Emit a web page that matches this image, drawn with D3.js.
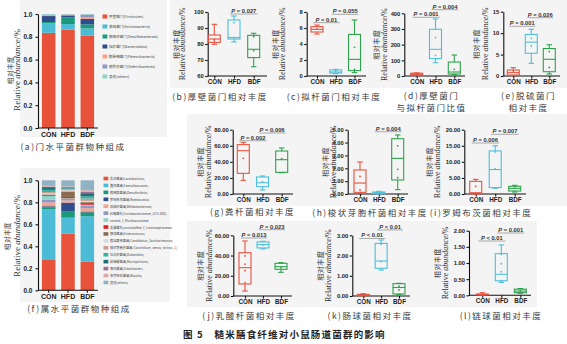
<!DOCTYPE html>
<html><head><meta charset="utf-8">
<script src="https://cdn.jsdelivr.net/npm/d3@7"></script>
<style>
body{margin:0;background:#fff}
text{font-family:"Liberation Sans",Arial,sans-serif}
.cn{font-family:"Noto Sans CJK SC",sans-serif}
</style>
</head><body>
<svg id="fig" width="567" height="344"></svg>
<script>
// ---------- data ----------
const groups = ["CON", "HFD", "BDF"];
const groupColors = ["#e8533f", "#4dbfdc", "#2ea24c"];

// phylum level composition (bottom to top)
const phylumNames = ["厚壁菌门(Firmicutes)", "放线菌门(Actinobacteria)", "脱硫杆菌门(Desulfobacterota)",
  "拟杆菌门(Bacteroidota)", "髌骨细菌门(Patescibacteria)", "脱铁杆菌门(Deferribacteres)", "其他(others)"];
const phylumColors = ["#e8513a", "#4cbcd6", "#1a9a7a", "#2f4d8a", "#f5a38a", "#8f97c4", "#8fd3c6"];
const phylumCON = [0.835, 0.083, 0.012, 0.052, 0.008, 0.004, 0.006];
const phylumHFD = [0.862, 0.050, 0.058, 0.018, 0.006, 0.003, 0.003];
const phylumBDF = [0.809, 0.065, 0.035, 0.047, 0.014, 0.025, 0.005];

// genus level composition (bottom to top)
const genusNames = ["乳杆菌属(Lactobacillus)", "粪杆菌属(Faecalibaculum)", "脱硫弧菌属(Desulfovibrio)",
  "罗姆布茨菌属(Romboutsia)", "双歧杆菌属(Bifidobacterium)", "红蝽菌科(Coriobacteriaceae_UCG-002)",
  "norank_f_Muribaculaceae", "毛螺菌科(unclassified_f_Lachnospiraceae)", "肠球菌属(Enterococcus)",
  "假丝酵母菌属(Candidatus_Saccharimonas)", "梭状芽胞杆菌属(Clostridium_sensu_stricto_1)",
  "杜氏杆菌属(Dubosiella)", "粘液螺菌属(Mucispirillum)", "臭杆菌属(Odoribacter)",
  "布劳特氏菌属(Blautia)", "其他(others)"];
const genusColors = ["#e8513a", "#4cbcd6", "#1a9a7a", "#2f4d8a", "#f5a38a", "#8f97c4", "#8fd3c6",
  "#e41e26", "#8b6a4e", "#d9d9d9", "#c99c90", "#3ab3a4", "#1f6f7a", "#9a7096", "#dba8a8", "#8fb3c4"];
const genusCON = [0.276, 0.460, 0.018, 0.010, 0.035, 0.025, 0.035, 0.008, 0.004, 0.010, 0.012, 0.020, 0.025, 0.005, 0.007, 0.050];
const genusHFD = [0.515, 0.145, 0.060, 0.077, 0.020, 0.015, 0.005, 0.012, 0.050, 0.010, 0.010, 0.008, 0.008, 0.005, 0.005, 0.055];
const genusBDF = [0.260, 0.413, 0.035, 0.008, 0.030, 0.020, 0.012, 0.015, 0.008, 0.012, 0.020, 0.020, 0.030, 0.012, 0.015, 0.090];

const stackTicks = [0, 0.2, 0.4, 0.6, 0.8, 1.0];

// box statistics per group: [min, q1, median, q3, max]
const boxFirmicutes = [[79.8, 81.0, 83.1, 85.6, 92.3], [81.3, 83.1, 84.0, 95.0, 97.5], [65.8, 71.5, 76.7, 85.4, 86.7]];
const ptsFirmicutes = [[83.0, 82.0], [93.3, 84.2], [75.8, 84.6]];
const boxBacteroidota = [[5.25, 5.5, 5.83, 6.17, 6.37], [0.29, 0.37, 0.5, 0.75, 0.83], [0.42, 0.67, 2.08, 5.2, 7.0]];
const ptsBacteroidota = [[5.9], [0.6], [3.58, 0.83]];
const boxFBRatio = [[5, 8, 12, 18, 20], [85, 111, 170, 298, 364], [8.5, 12.8, 25.5, 89, 134]];
const ptsFBRatio = [[12], [245, 132], [42.5]];
const boxDesulfo = [[0.08, 0.23, 0.78, 1.4, 1.94], [2.95, 5.3, 7.9, 9.7, 10.9], [0.47, 1.0, 3.9, 6.4, 7.3]];
const ptsDesulfo = [[1.17], [8.8, 7.0], [5.7, 2.0]];
const boxFaecali = [[17, 25.7, 53.9, 61.4, 64.3], [5, 9.1, 14, 21.2, 22.4], [26.5, 27, 42.7, 53.5, 57.3]];
const ptsFaecali = [[44.4], [15.3], [44]];
const boxClostridium = [[0.05, 0.13, 0.85, 1.87, 2.49], [0.0, 0.03, 0.1, 0.155, 0.21], [0.34, 1.09, 2.77, 4.3, 4.59]];
const ptsClostridium = [[1.37, 0.31], [0.1], [3.75, 1.92, 1.27]];
const boxRomboutsia = [[0.0, 0.1, 0.4, 3.94, 4.56], [1.76, 2.0, 7.6, 13.4, 15.0], [0.62, 0.93, 1.76, 2.4, 2.7]];
const ptsRomboutsia = [[2.4], [13.1, 7.8], [1.8]];
const boxLacto = [[4.9, 11.9, 28, 42.8, 54.4], [46.5, 47.5, 50.8, 53.5, 54.1], [23.4, 26.4, 29, 32.3, 33]];
const ptsLacto = [[39.6, 31.4, 25, 13.2], [50.5], [28]];
const boxEntero = [[0.01, 0.02, 0.05, 0.08, 0.115], [1.28, 1.37, 1.73, 2.6, 2.77], [0.07, 0.1, 0.42, 0.61, 0.63]];
const ptsEntero = [[0.05], [2.55, 1.7], [0.49, 0.3]];
const boxStrepto = [[0.005, 0.01, 0.025, 0.04, 0.08], [0.4, 0.45, 0.65, 1.29, 1.56], [0.06, 0.08, 0.13, 0.19, 0.21]];
const ptsStrepto = [[0.03], [1.27, 0.98, 0.73, 0.45], [0.13]];

// significance labels: [group a, group b, p value, relation]
const sigFirmicutes = [[1, 2, "0.027", "="]];
const sigBacteroidota = [[0, 1, "0.01", "="], [1, 2, "0.055", "="]];
const sigFBRatio = [[0, 1, "0.001", "="], [1, 2, "0.004", "="]];
const sigDesulfo = [[0, 1, "0.001", "="], [1, 2, "0.026", "="]];
const sigFaecali = [[0, 1, "0.002", "="], [1, 2, "0.006", "="]];
const sigClostridium = [[1, 2, "0.004", "="]];
const sigRomboutsia = [[0, 1, "0.006", "="], [1, 2, "0.007", "="]];
const sigLacto = [[0, 1, "0.013", "="], [1, 2, "0.023", "="]];
const sigEntero = [[0, 1, "0.01", "<"], [1, 2, "0.01", "<"]];
const sigStrepto = [[0, 1, "0.01", "<"], [1, 2, "0.001", "="]];

// ---------- drawing ----------
const svg = d3.select("#fig");
const bg = "#f4f4f4";
[[20, 0, 147, 137], [20, 168, 150, 134], [170, 0, 397, 88], [187, 114, 380, 92], [187, 221, 350, 86]]
  .forEach(r => svg.append("rect").attr("x", r[0]).attr("y", r[1]).attr("width", r[2]).attr("height", r[3]).attr("fill", bg));

function styleAxis(sel, fs) {
  sel.selectAll("path,line").attr("stroke", "#111").attr("stroke-width", 1.1);
  sel.selectAll("text").attr("font-size", fs).attr("font-weight", "bold").attr("fill", "#222");
}

function yTitle(xCn, xEn, cy, fsCn, fsEn) {
  svg.append("text").attr("class", "cn").attr("transform", `translate(${xCn},${cy}) rotate(-90)`)
    .attr("text-anchor", "middle").attr("dominant-baseline", "central")
    .attr("font-size", fsCn).attr("letter-spacing", 0.6).attr("fill", "#333").text("相对丰度");
  const t = svg.append("text").attr("transform", `translate(${xEn},${cy}) rotate(-90)`)
    .attr("text-anchor", "middle").attr("dominant-baseline", "central")
    .attr("font-size", fsEn).attr("fill", "#333").style("font-family", "'Liberation Serif',serif");
  t.append("tspan").text("Relative ");
  t.append("tspan").attr("font-style", "italic").text("abundance");
  t.append("tspan").text("/%");
}

function panelLabel(lines, cx, y0) {
  lines.forEach((s, i) => svg.append("text").attr("class", "cn").attr("x", cx).attr("y", y0 + i * 12.6)
    .attr("text-anchor", "middle").attr("font-size", 8.5).attr("letter-spacing", 1.5).attr("fill", "#3a3a3a").text(s));
}

function stackPanel(p) {
  const table = groups.map((g, i) => {
    const row = { group: g };
    p.names.forEach((n, j) => row[n] = p.values[i][j]);
    return row;
  });
  const series = d3.stack().keys(p.names)(table);
  const y = d3.scaleLinear().domain([0, 1]).range([p.yBot, p.yTop]);
  const x = d3.scaleBand().domain(groups).range([p.ax + 1, p.ax + 59]).paddingInner(0.3).paddingOuter(0.15);
  svg.append("g").selectAll("g").data(series).join("g")
    .attr("fill", (d, i) => p.colors[i])
    .selectAll("rect").data(d => d).join("rect")
    .attr("x", d => x(d.data.group)).attr("width", x.bandwidth())
    .attr("y", d => y(d[1])).attr("height", d => y(d[0]) - y(d[1]));
  const ya = svg.append("g").attr("transform", `translate(${p.ax},0)`)
    .call(d3.axisLeft(y).tickValues(stackTicks).tickFormat(d3.format(".1f")).tickSize(2.5).tickSizeOuter(0));
  styleAxis(ya, 6.5);
  const xa = svg.append("g").attr("transform", `translate(0,${p.yBot})`)
    .call(d3.axisBottom(x).tickSize(2.5).tickPadding(1.5));
  xa.select(".domain").remove();
  styleAxis(xa, 7);
  svg.append("line").attr("x1", p.ax).attr("x2", p.ax + 60).attr("y1", p.yBot).attr("y2", p.yBot)
    .attr("stroke", "#111").attr("stroke-width", 1.1);
  // legend
  const lg = svg.append("g");
  p.names.forEach((n, i) => {
    const yy = p.legY + i * p.legStep;
    lg.append("rect").attr("x", p.legX).attr("y", yy - p.sw / 2).attr("width", 4.8).attr("height", p.sw).attr("fill", p.colors[i]);
    lg.append("text").attr("class", "cn").attr("x", p.legX + 6.5).attr("y", yy).attr("dominant-baseline", "central")
      .attr("font-size", p.lfs).attr("fill", "#444").text(n);
  });
}

stackPanel({ names: phylumNames, colors: phylumColors, values: [phylumCON, phylumHFD, phylumBDF],
  ax: 38, yTop: 14, yBot: 128, legX: 102.5, legY: 16.5, legStep: 10, sw: 4, lfs: 3.6 });
yTitle(9.5, 17, 70, 6.5, 9);
panelLabel(["(a)门水平菌群物种组成"], 73, 149.5);

stackPanel({ names: genusNames, colors: genusColors, values: [genusCON, genusHFD, genusBDF],
  ax: 38, yTop: 180.3, yBot: 290.3, legX: 103.5, legY: 178.5, legStep: 6.93, sw: 3.6, lfs: 3.2 });
yTitle(7, 17, 236, 6.5, 9);
panelLabel(["(f)属水平菌群物种组成"], 79, 311.5);

function boxPanel(p) {
  const y = d3.scaleLinear().domain(p.domain).range([p.yBot, p.yTop]);
  const x = d3.scalePoint().domain(groups).range([p.xCon, p.xBdf]);
  const ya = svg.append("g").attr("transform", `translate(${p.ax},0)`)
    .call(d3.axisLeft(y).tickValues(p.ticks).tickFormat(d3.format(p.fmt)).tickSize(2.5).tickPadding(1.5).tickSizeOuter(0));
  styleAxis(ya, 5.8);
  svg.append("line").attr("x1", p.ax).attr("x2", p.xEnd).attr("y1", p.yBot).attr("y2", p.yBot)
    .attr("stroke", "#111").attr("stroke-width", 1.1);
  const xa = svg.append("g").attr("transform", `translate(0,${p.yBot})`)
    .call(d3.axisBottom(x).tickSize(2.5).tickPadding(1.2));
  xa.select(".domain").remove();
  styleAxis(xa, 6.3);

  const bw = 12, cw = 5.5;
  p.box.forEach((s, i) => {
    const cx = x(groups[i]), c = groupColors[i];
    const g = svg.append("g").attr("stroke", c).attr("stroke-width", 1.1).attr("fill", "none");
    g.append("line").attr("x1", cx).attr("x2", cx).attr("y1", y(s[4])).attr("y2", y(s[3]));
    g.append("line").attr("x1", cx).attr("x2", cx).attr("y1", y(s[1])).attr("y2", y(s[0]));
    g.append("line").attr("x1", cx - cw / 2).attr("x2", cx + cw / 2).attr("y1", y(s[4])).attr("y2", y(s[4]));
    g.append("line").attr("x1", cx - cw / 2).attr("x2", cx + cw / 2).attr("y1", y(s[0])).attr("y2", y(s[0]));
    g.append("rect").attr("x", cx - bw / 2).attr("width", bw).attr("y", y(s[3])).attr("height", Math.max(0.6, y(s[1]) - y(s[3])));
    g.append("line").attr("x1", cx - bw / 2).attr("x2", cx + bw / 2).attr("y1", y(s[2])).attr("y2", y(s[2]));
    p.pts[i].forEach(v => svg.append("circle").attr("cx", cx).attr("cy", y(v)).attr("r", 0.9).attr("fill", c));
  });

  p.sig.forEach((s, k) => {
    const ly = p.sigY[k];
    const xa0 = x(groups[s[0]]) - 4, xb = x(groups[s[1]]) + 4;
    svg.append("line").attr("x1", xa0).attr("x2", xb).attr("y1", ly).attr("y2", ly)
      .attr("stroke", "#888").attr("stroke-width", 0.7);
    const t = svg.append("text").attr("x", (xa0 + xb) / 2).attr("y", ly - 1.2).attr("text-anchor", "middle")
      .attr("font-size", 5.8).attr("font-weight", "bold").attr("fill", "#333");
    t.append("tspan").attr("font-style", "italic").text("P");
    t.append("tspan").text(` ${s[3]} ${s[2]}`);
  });

  yTitle(p.tx[0], p.tx[1], (p.yTop + p.yBot) / 2, 7, 8);
  panelLabel(p.label, p.lx, p.ly);
}

const panels = [
  { box: boxFirmicutes, pts: ptsFirmicutes, sig: sigFirmicutes, sigY: [14],
    ax: 207.7, xCon: 214.3, xBdf: 253.7, xEnd: 267, yTop: 12, yBot: 76, domain: [60, 100], ticks: [60, 70, 80, 90, 100], fmt: "d",
    tx: [175.5, 182], label: ["(b)厚壁菌门相对丰度"], lx: 220, ly: 99.5 },
  { box: boxBacteroidota, pts: ptsBacteroidota, sig: sigBacteroidota, sigY: [22.7, 14.3],
    ax: 306.7, xCon: 317, xBdf: 354.5, xEnd: 366, yTop: 12, yBot: 76, domain: [0, 8], ticks: [0, 2, 4, 6, 8], fmt: "d",
    tx: [275, 282], label: ["(c)拟杆菌门相对丰度"], lx: 334, ly: 99.5 },
  { box: boxFBRatio, pts: ptsFBRatio, sig: sigFBRatio, sigY: [17.3, 9.7],
    ax: 404.3, xCon: 416.7, xBdf: 454.3, xEnd: 465, yTop: 13.3, yBot: 76, domain: [0, 400], ticks: [0, 100, 200, 300, 400], fmt: "d",
    tx: [376, 384], label: ["(d)厚壁菌门", "与拟杆菌门比值"], lx: 431.5, ly: 98.5 },
  { box: boxDesulfo, pts: ptsDesulfo, sig: sigDesulfo, sigY: [26.3, 17.7],
    ax: 503.3, xCon: 513.3, xBdf: 549.3, xEnd: 560, yTop: 11.7, yBot: 76, domain: [0, 15], ticks: [0, 5, 10, 15], fmt: "d",
    tx: [476, 485], label: ["(e)脱硫菌门", "相对丰度"], lx: 528.5, ly: 98.5 },
  { box: boxFaecali, pts: ptsFaecali, sig: sigFaecali, sigY: [140.7, 133],
    ax: 232.7, xCon: 243.3, xBdf: 281.7, xEnd: 293, yTop: 129.7, yBot: 194, domain: [0, 80], ticks: [0, 20, 40, 60, 80], fmt: ".2f",
    tx: [199.5, 207.5], label: ["(g)粪杆菌相对丰度"], lx: 252.5, ly: 215 },
  { box: boxClostridium, pts: ptsClostridium, sig: sigClostridium, sigY: [131.7],
    ax: 347.7, xCon: 360, xBdf: 397.7, xEnd: 408, yTop: 129.7, yBot: 194, domain: [0, 5], ticks: [0, 1, 2, 3, 4, 5], fmt: ".2f",
    tx: [325, 333.3], label: ["(h)梭状芽胞杆菌相对丰度"], lx: 370, ly: 216 },
  { box: boxRomboutsia, pts: ptsRomboutsia, sig: sigRomboutsia, sigY: [143, 134.3],
    ax: 464.3, xCon: 475.7, xBdf: 514.7, xEnd: 526, yTop: 129.7, yBot: 194, domain: [0, 20], ticks: [0, 5, 10, 15, 20], fmt: ".2f",
    tx: [429, 437.3], label: ["(i)罗姆布茨菌相对丰度"], lx: 481, ly: 216 },
  { box: boxLacto, pts: ptsLacto, sig: sigLacto, sigY: [238, 229.7],
    ax: 233.3, xCon: 245, xBdf: 281, xEnd: 292, yTop: 235.3, yBot: 296, domain: [0, 60], ticks: [0, 20, 40, 60], fmt: ".2f",
    tx: [200, 209], label: ["(j)乳酸杆菌相对丰度"], lx: 249, ly: 318.5 },
  { box: boxEntero, pts: ptsEntero, sig: sigEntero, sigY: [238.5, 230],
    ax: 352.3, xCon: 363.3, xBdf: 399, xEnd: 410, yTop: 235.3, yBot: 296, domain: [0, 3], ticks: [0, 1, 2, 3], fmt: ".2f",
    tx: [320, 327.5], label: ["(k)肠球菌相对丰度"], lx: 370, ly: 318.5 },
  { box: boxStrepto, pts: ptsStrepto, sig: sigStrepto, sigY: [241, 233],
    ax: 469, xCon: 482.3, xBdf: 520.3, xEnd: 531, yTop: 230.7, yBot: 295.3, domain: [0, 2], ticks: [0, 0.5, 1, 1.5, 2], fmt: ".2f",
    tx: [437, 445], label: ["(l)链球菌相对丰度"], lx: 501, ly: 319 }
];
panels.forEach(boxPanel);

// figure caption
svg.append("text").attr("class", "cn").attr("x", 183).attr("y", 337.5).attr("font-size", 9.5)
  .attr("font-weight", "bold").attr("letter-spacing", 1.2).attr("fill", "#222")
  .text("图 5　糙米膳食纤维对小鼠肠道菌群的影响");
</script>
</body></html>
